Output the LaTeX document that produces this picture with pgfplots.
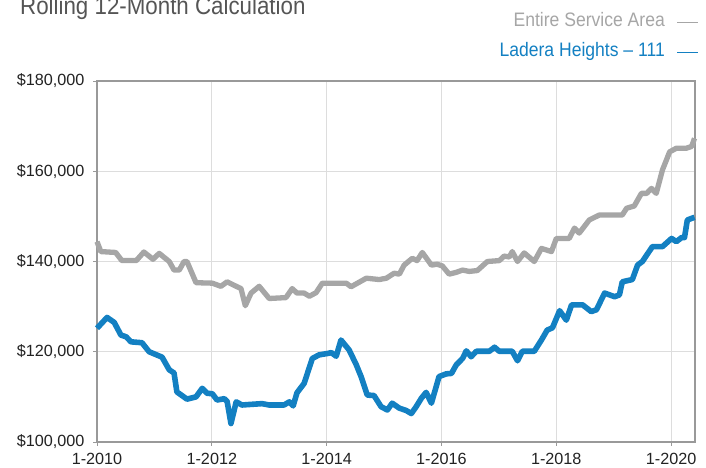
\documentclass[border=0pt]{standalone}
\usepackage{pgfplots}
\pgfplotsset{compat=1.18}
\usepackage{fontspec}
\setmainfont{Liberation Sans}
\newfontfamily\condfont{Liberation Sans}[FakeStretch=0.9]
\definecolor{lgray}{HTML}{A6A6A6}
\definecolor{lblue}{HTML}{1380C2}
\definecolor{boxgray}{HTML}{999999}
\definecolor{gridgray}{HTML}{DDDDDD}
\definecolor{titlegray}{HTML}{555555}
\definecolor{ticktext}{HTML}{222222}
\begin{document}
\begin{tikzpicture}
\path[use as bounding box] (0,0) rectangle (706bp,468bp);
\begin{axis}[
  at={(97bp,26bp)}, anchor=south west,
  scale only axis, width=598bp, height=361bp,
  xmin=0, xmax=125, ymin=100000, ymax=180000,
  xtick={0,24,48,72,96,120},
  xticklabels={1-2010,1-2012,1-2014,1-2016,1-2018,1-2020},
  ytick={100000,120000,140000,160000,180000},
  yticklabels={{\$100,000},{\$120,000},{\$140,000},{\$160,000},{\$180,000}},
  grid=major,
  major grid style={draw=gridgray, line width=0.8bp},
  axis line style={draw=boxgray, line width=1.2bp},
  tick align=outside, major tick length=4bp,
  tick style={draw=boxgray, line width=0.8bp},
  xtick pos=bottom, ytick pos=left,
  ticklabel style={font=\fontsize{16.2bp}{19bp}\selectfont, text=ticktext},
  xticklabel style={yshift=-3.5bp},
  yticklabel style={xshift=-5bp},
  scaled y ticks=false,
  clip=false,
]
\addplot[lgray, line width=5.3bp, line join=round] coordinates {
(0,144.4e3) (0.8,142.2e3) (3.9,142.0e3) (5.2,140.2e3) (8.2,140.2e3) (9.8,142.1e3)
(11.7,140.5e3) (13.0,141.8e3) (15.1,140.0e3) (16.1,138.1e3) (17.2,138.1e3) (18.2,140.0e3)
(18.8,140.0e3) (20.7,135.3e3) (24.1,135.2e3) (25.9,134.5e3) (27.2,135.5e3) (29.1,134.5e3)
(30.1,134.0e3) (31.0,130.2e3) (32.2,133.0e3) (33.9,134.5e3) (36.0,131.8e3) (39.5,132.0e3)
(40.8,134.0e3) (41.8,133.0e3) (43.3,133.0e3) (44.4,132.3e3) (45.8,133.1e3) (47.1,135.2e3)
(52.1,135.2e3) (53.1,134.4e3) (56.3,136.3e3) (59.0,136.0e3) (60.5,136.3e3) (62.1,137.4e3)
(63.2,137.2e3) (64.2,139.2e3) (65.9,140.7e3) (66.9,140.2e3) (68.0,142.0e3) (69.9,139.2e3)
(71.1,139.4e3) (72.2,139.0e3) (73.6,137.2e3) (75.1,137.6e3) (76.4,138.1e3) (77.8,137.8e3)
(79.5,138.0e3) (81.6,140.0e3) (84.1,140.2e3) (85.1,141.2e3) (86.2,141.0e3) (86.8,142.2e3)
(87.9,140.0e3) (89.3,141.9e3) (91.4,140.0e3) (92.9,142.9e3) (95.0,142.2e3) (96.0,145.1e3)
(98.7,145.1e3) (99.8,147.4e3) (100.8,146.3e3) (102.9,149.2e3) (105.0,150.3e3) (109.8,150.3e3)
(110.7,151.8e3) (112.3,152.3e3) (113.8,155.1e3) (114.9,155.1e3) (115.9,156.2e3) (116.9,155.1e3)
(118.2,160.3e3) (119.7,164.3e3) (121.1,165.1e3) (123.2,165.1e3) (124.3,165.5e3) (124.9,167.3e3)
};
\addplot[lblue, line width=5.6bp, line join=round] coordinates {
(0,125.2e3) (2.1,127.6e3) (3.6,126.5e3) (5.0,123.7e3) (6.1,123.3e3) (7.1,122.2e3)
(9.4,122.0e3) (10.9,120.0e3) (13.6,118.8e3) (15.1,116.0e3) (16.1,115.3e3) (16.7,111.1e3)
(18.8,109.5e3) (20.7,110.0e3) (22.0,111.9e3) (23.0,110.8e3) (24.1,110.7e3) (25.1,109.3e3)
(26.6,109.6e3) (27.2,109.0e3) (28.0,104.1e3) (29.1,108.9e3) (30.3,108.2e3) (34.5,108.5e3)
(36.0,108.2e3) (39.1,108.2e3) (40.2,108.9e3) (41.0,108.0e3) (41.8,110.9e3) (43.3,113.0e3)
(45.0,118.5e3) (46.4,119.3e3) (48.1,119.6e3) (49.0,119.8e3) (50.0,119.0e3) (51.0,122.6e3)
(52.7,120.4e3) (54.2,117.1e3) (55.2,114.5e3) (56.5,110.4e3) (57.9,110.3e3) (59.4,107.8e3)
(60.7,107.1e3) (61.7,108.6e3) (63.2,107.5e3) (64.6,107.0e3) (65.7,106.3e3) (66.7,107.8e3)
(67.8,109.7e3) (68.8,111.0e3) (69.9,108.6e3) (71.5,114.5e3) (73.0,115.1e3) (74.1,115.2e3)
(75.1,117.1e3) (76.4,118.5e3) (77.2,120.2e3) (78.2,118.9e3) (79.3,120.1e3) (82.0,120.1e3)
(83.1,121.0e3) (84.1,120.1e3) (86.8,120.1e3) (87.9,118.0e3) (88.9,120.1e3) (91.4,120.1e3)
(92.9,122.6e3) (94.1,124.8e3) (95.2,125.3e3) (96.7,129.1e3) (98.1,127.0e3) (99.2,130.4e3)
(101.5,130.4e3) (103.3,128.9e3) (104.4,129.3e3) (106.1,133.0e3) (108.2,132.2e3) (109.2,132.6e3)
(109.8,135.5e3) (111.9,136.0e3) (113.0,139.2e3) (114.0,140.0e3) (116.1,143.3e3) (118.2,143.3e3)
(120.1,145.1e3) (121.1,144.4e3) (122.2,145.3e3) (122.8,145.3e3) (123.4,149.2e3) (124.9,149.8e3)
};
\end{axis}
\node[anchor=base west, inner sep=0pt, text=titlegray, font=\condfont\fontsize{24.8bp}{28bp}\selectfont] at (20bp,453bp) {Rolling 12-Month Calculation};
\node[anchor=base east, inner sep=0pt, text=lgray, font=\condfont\fontsize{19.5bp}{23bp}\selectfont] at (665bp,441bp) {Entire Service Area};
\draw[lgray, line width=1.3bp] (677bp,445.3bp) -- (698bp,445.3bp);
\node[anchor=base east, inner sep=0pt, text=lblue, font=\condfont\fontsize{19.5bp}{23bp}\selectfont] at (665bp,411bp) {Ladera Heights – 111};
\draw[lblue, line width=1.3bp] (677bp,415.3bp) -- (698bp,415.3bp);
\end{tikzpicture}
\end{document}
